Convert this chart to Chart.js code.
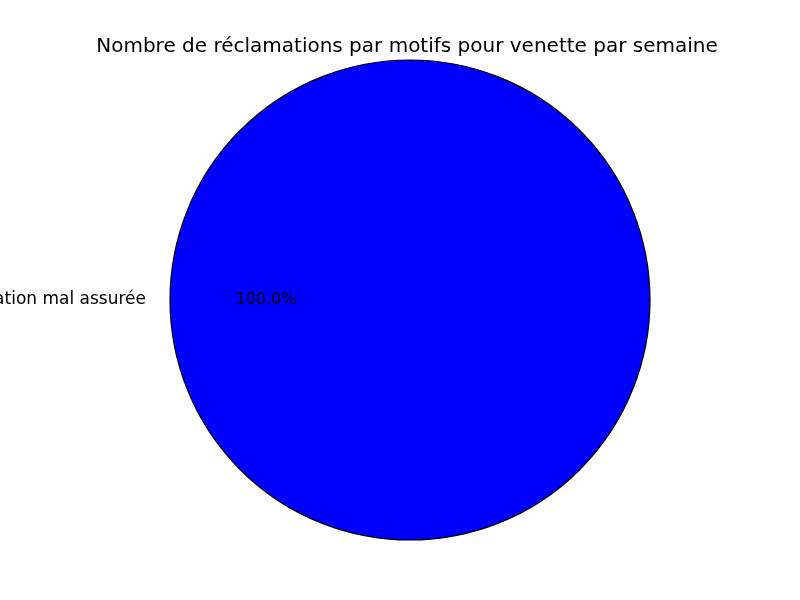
<!DOCTYPE html>
<html>
<head>
<meta charset="utf-8">
<script src="https://cdn.jsdelivr.net/npm/chart.js@4"></script>
<style>
  html, body { margin: 0; padding: 0; background: #fff; }
  #wrap { width: 800px; height: 600px; }
</style>
</head>
<body>
<div id="wrap"><canvas id="pie" width="800" height="600"></canvas></div>
<script>
const titleText = 'Nombre de réclamations par motifs pour venette par semaine';
const motifs = ['Information mal assurée'];
const counts = [1];
const colors = ['#0000ff'];

// draws title, outline, outer labels and percentages like the matplotlib original
const pieText = {
    id: 'pieText',
    afterDraw(chart) {
        const ctx = chart.ctx;
        ctx.save();
        ctx.fillStyle = '#000';
        ctx.font = '20px "DejaVu Sans"';
        ctx.textAlign = 'center';
        ctx.textBaseline = 'middle';
        ctx.fillText(titleText, 407, 47);

        const total = counts.reduce((a, b) => a + b, 0);
        const meta = chart.getDatasetMeta(0);
        meta.data.forEach((arc, i) => {
            const p = arc.getProps(['x', 'y', 'startAngle', 'endAngle', 'outerRadius']);
            const full = p.endAngle - p.startAngle >= Math.PI * 2 - 1e-6;
            const r = p.outerRadius;
            // edge
            ctx.beginPath();
            if (full) {
                ctx.arc(p.x, p.y, r, 0, Math.PI * 2);
            } else {
                ctx.moveTo(p.x, p.y);
                ctx.arc(p.x, p.y, r, p.startAngle, p.endAngle);
                ctx.closePath();
            }
            ctx.lineWidth = 1.2;
            ctx.strokeStyle = '#000';
            ctx.stroke();

            let mid = (p.startAngle + p.endAngle) / 2;
            if (full) mid = Math.PI;
            ctx.font = '17px "DejaVu Sans"';
            const lx = p.x + Math.cos(mid) * r * 1.1;
            const ly = p.y + Math.sin(mid) * r * 1.1;
            ctx.textAlign = Math.cos(mid) < 0 ? 'right' : 'left';
            ctx.fillText(motifs[i], lx, ly);
            ctx.font = '16px "DejaVu Sans"';
            const px = p.x + Math.cos(mid) * r * 0.6;
            const py = p.y + Math.sin(mid) * r * 0.6;
            ctx.textAlign = 'center';
            ctx.fillText((counts[i] / total * 100).toFixed(1) + '%', px, py);
        });
        ctx.restore();
    }
};

new Chart(document.getElementById('pie'), {
    type: 'pie',
    data: {
        labels: motifs,
        datasets: [{
            data: counts,
            backgroundColor: colors,
            borderWidth: 0
        }]
    },
    options: {
        responsive: false,
        animation: false,
        layout: { padding: { left: 170, right: 150, top: 60, bottom: 60 } },
        plugins: {
            legend: { display: false },
            tooltip: { enabled: false },
            title: { display: false }
        }
    },
    plugins: [pieText]
});
</script>
</body>
</html>
